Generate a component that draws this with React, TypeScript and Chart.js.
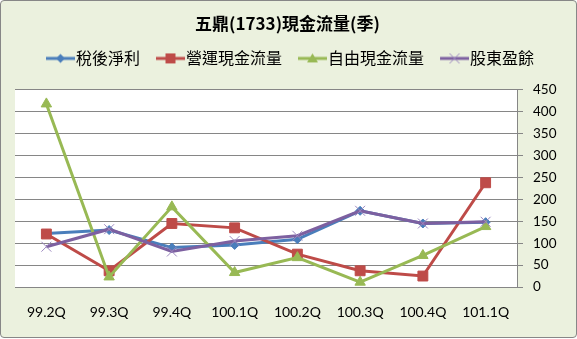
import React, { useEffect, useRef } from 'react';
import { Chart, registerables } from 'chart.js';

Chart.register(...registerables);

const TITLE = '五鼎(1733)現金流量(季)';
const CATEGORIES = ['99.2Q', '99.3Q', '99.4Q', '100.1Q', '100.2Q', '100.3Q', '100.4Q', '101.1Q'];
const SERIES_NAMES = ['稅後淨利', '營運現金流量', '自由現金流量', '股東盈餘'];
const NET_INCOME = [122, 130, 90, 96, 109, 174, 145, 148];
const OPERATING_CF = [121, 37, 145, 135, 75, 37, 25, 238];
const FREE_CF = [418, 23, 183, 33, 67, 11, 72, 138];
const OWNER_EARNINGS = [92, 132, 81, 105, 117, 174, 145, 149];
const Y_MIN = 0;
const Y_MAX = 450;
const Y_STEP = 50;

const BLUE = '#4A7EBB';
const RED = '#BE4B48';
const GREEN = '#98B954';
const PURPLE = '#7D60A0';
const PURPLE_MARK = '#9C88C0';
const GRID = '#868686';
const BG = '#EBF1DE';
const CJK = "'Noto Sans CJK TC', sans-serif";
const LATIN = "Lato, 'Noto Sans CJK TC', sans-serif";

// legend icon: 41px wide canvas, centred on the legend box; the line occupies px 12..41
function makeIcon(color: string, markColor: string, style: string, lineW: number) {
  const c = document.createElement('canvas');
  c.width = 41;
  c.height = 14;
  const ctx = c.getContext('2d')!;
  ctx.strokeStyle = color;
  ctx.lineWidth = lineW;
  ctx.beginPath();
  ctx.moveTo(12, 7);
  ctx.lineTo(41, 7);
  ctx.stroke();
  const cx = 26.5;
  const cy = 7;
  ctx.fillStyle = markColor;
  ctx.strokeStyle = markColor;
  ctx.lineWidth = 1;
  ctx.beginPath();
  if (style === 'diamond') {
    ctx.moveTo(cx, cy - 4.5);
    ctx.lineTo(cx + 4.5, cy);
    ctx.lineTo(cx, cy + 4.5);
    ctx.lineTo(cx - 4.5, cy);
    ctx.closePath();
    ctx.fill();
  } else if (style === 'square') {
    ctx.rect(cx - 5, cy - 5, 10, 10);
    ctx.fill();
  } else if (style === 'triangle') {
    ctx.moveTo(cx, cy - 5);
    ctx.lineTo(cx + 5.5, cy + 4);
    ctx.lineTo(cx - 5.5, cy + 4);
    ctx.closePath();
    ctx.fill();
  } else {
    ctx.moveTo(cx - 5, cy - 5);
    ctx.lineTo(cx + 5, cy + 5);
    ctx.moveTo(cx + 5, cy - 5);
    ctx.lineTo(cx - 5, cy + 5);
    ctx.stroke();
  }
  return c;
}

const plotBg = {
  id: 'plotBg',
  beforeDraw(chart: any) {
    const { ctx, chartArea: a } = chart;
    ctx.save();
    ctx.fillStyle = '#FFFFFF';
    ctx.fillRect(a.left, a.top, a.right - a.left, a.bottom - a.top);
    ctx.restore();
  },
};

export default function App() {
  const ref = useRef<HTMLCanvasElement>(null);

  useEffect(() => {
    if (!ref.current) return;
    const icons = [
      makeIcon(BLUE, BLUE, 'diamond', 3),
      makeIcon(RED, RED, 'square', 3),
      makeIcon(GREEN, GREEN, 'triangle', 3),
      makeIcon(PURPLE, PURPLE_MARK, 'x', 3),
    ];
    const common = { borderWidth: 3, tension: 0, xAxisID: 'x', yAxisID: 'y', pointBorderWidth: 1 };
    const chart = new Chart(ref.current, {
      type: 'line',
      data: {
        labels: CATEGORIES,
        datasets: [
          { ...common, label: SERIES_NAMES[0], data: NET_INCOME, borderColor: BLUE, backgroundColor: BLUE, pointStyle: 'rectRot', pointRadius: 4.5, pointBackgroundColor: BLUE, pointBorderColor: BLUE, order: 4 },
          { ...common, label: SERIES_NAMES[1], data: OPERATING_CF, borderColor: RED, backgroundColor: RED, pointStyle: 'rect', pointRadius: 7, pointBackgroundColor: RED, pointBorderColor: RED, order: 3 },
          { ...common, label: SERIES_NAMES[2], data: FREE_CF, borderColor: GREEN, backgroundColor: GREEN, pointStyle: 'triangle', pointRadius: 6, pointBackgroundColor: GREEN, pointBorderColor: GREEN, order: 2 },
          { ...common, label: SERIES_NAMES[3], data: OWNER_EARNINGS, borderColor: PURPLE, backgroundColor: PURPLE, pointStyle: 'crossRot', pointRadius: 7, pointBackgroundColor: PURPLE_MARK, pointBorderColor: PURPLE_MARK, order: 1 },
        ],
      },
      options: {
        responsive: false,
        animation: false,
        events: [],
        layout: { padding: { left: 0, right: 2, top: 0, bottom: 0 } },
        plugins: {
          title: {
            display: true,
            text: TITLE,
            color: '#000',
            font: { family: CJK, size: 17, weight: 'bold' },
            padding: { top: 13, bottom: 6 },
          },
          legend: {
            display: true,
            position: 'top',
            labels: {
              usePointStyle: true,
              pointStyleWidth: 27,
              padding: 11,
              color: '#000',
              font: { family: CJK, size: 16 },
              generateLabels: (ch: any) =>
                ch.data.datasets.map((ds: any, i: number) => ({
                  text: ds.label,
                  pointStyle: icons[i],
                  fillStyle: 'transparent',
                  strokeStyle: 'transparent',
                  lineWidth: 0,
                  hidden: false,
                  datasetIndex: i,
                  fontColor: '#000',
                })),
            },
          },
          tooltip: { enabled: false },
        },
        scales: {
          x: {
            type: 'category',
            position: 'bottom',
            offset: true,
            grid: { display: false, drawTicks: false },
            border: { display: true, color: GRID, width: 1 },
            ticks: { color: '#000', font: { family: LATIN, size: 14 }, padding: 17, maxRotation: 0, autoSkip: false },
            afterFit: (s: any) => { s.height = 52; },
          },
          y: {
            type: 'linear',
            position: 'right',
            min: Y_MIN,
            max: Y_MAX,
            ticks: { stepSize: Y_STEP, color: '#000', font: { family: LATIN, size: 13.5 }, padding: 10 },
            grid: { color: GRID, lineWidth: 1, tickLength: 6, drawTicks: true },
            border: { display: true, color: GRID, width: 1 },
            afterFit: (s: any) => { s.width = 58; },
          },
          padL: {
            type: 'linear',
            position: 'left',
            axis: 'y',
            display: true,
            grid: { display: false, drawTicks: false },
            border: { display: false },
            ticks: { display: false },
            afterFit: (s: any) => { s.width = 15; },
          },
          padT: {
            type: 'linear',
            position: 'top',
            axis: 'x',
            display: true,
            grid: { display: false, drawTicks: false },
            border: { display: false },
            ticks: { display: false },
            afterFit: (s: any) => { s.height = 13.5; },
          },
        },
      } as any,
      plugins: [plotBg],
    });
    return () => chart.destroy();
  }, []);

  return (
    <div
      style={{
        position: 'absolute',
        left: 0,
        top: 0,
        width: 577,
        height: 338,
        boxSizing: 'border-box',
        border: '1px solid #878787',
        borderRadius: 4,
        background: BG,
        overflow: 'hidden',
      }}
    >
      <canvas
        ref={ref}
        width={577}
        height={339}
        style={{ position: 'absolute', left: -1, top: -1, width: 577, height: 339 }}
      />
    </div>
  );
}
